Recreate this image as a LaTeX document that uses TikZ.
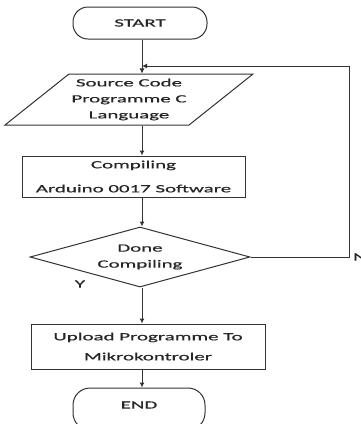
\documentclass[tikz,border=0pt]{standalone}
\usepackage{fontspec}
\setmainfont{Carlito}[FakeStretch=1.9,FakeBold=0.6]
\usetikzlibrary{shapes.geometric,arrows.meta}
\begin{document}
\begin{tikzpicture}[x=1pt,y=-1pt,
  box/.style={draw=black!80,line width=1pt,inner sep=0pt,align=center,font=\fontsize{11}{16}\selectfont,text=black!85},
  term/.style={box,rounded corners=15pt},
  flow/.style={draw=black!80,line width=1pt},
  arr/.style={flow,-{Latex[length=5pt,width=5pt]}},
  lbl/.style={font=\fontsize{11}{13}\selectfont,text=black!85,inner sep=0pt}]
\useasboundingbox (0,0) rectangle (361,424);
\fill[white] (0,0) rectangle (361,424);
\coordinate (col) at (142,0);
\node[term,minimum width=134pt,minimum height=32pt] (start) at (140,23) {START};
\node[box,trapezium,trapezium left angle=33,trapezium right angle=147,trapezium stretches body,minimum width=248pt,minimum height=51pt] (src) at (129,99.5) {Source Code\\Programme C\\Language};
\node[box,minimum width=223pt,minimum height=41pt,font=\fontsize{11}{24}\selectfont] (comp) at (133.5,176.5) {Compiling\\Arduino 0017 Software};
\node[box,diamond,aspect=3.67,minimum width=220pt,minimum height=60pt] (done) at (140,257) {Done\\Compiling};
\node[box,minimum width=234pt,minimum height=45pt,font=\fontsize{11}{20}\selectfont] (up) at (148,346.5) {Upload Programme To\\Mikrokontroler};
\node[term,minimum width=132pt,minimum height=42pt,rounded corners=17pt] (end) at (139,409) {};
\node[lbl] (endt) at (139,405) {END};
\node[lbl,anchor=west] (n) at (353,257) {N};
\node[lbl] (y) at (80,284) {Y};
\coordinate (fb) at (349,66);
\draw[arr] (start.south -| col) -- (src.north -| col);
\draw[arr] (src.south -| col) -- (comp.north -| col);
\draw[arr] (comp.south -| col) -- (done.north -| col);
\draw[arr] (done.south -| col) -- (up.north -| col);
\draw[arr] (up.south -| col) -- (end.north -| col);
\draw[arr] (done.east) -| (fb) -- (fb -| col);
\end{tikzpicture}
\end{document}
